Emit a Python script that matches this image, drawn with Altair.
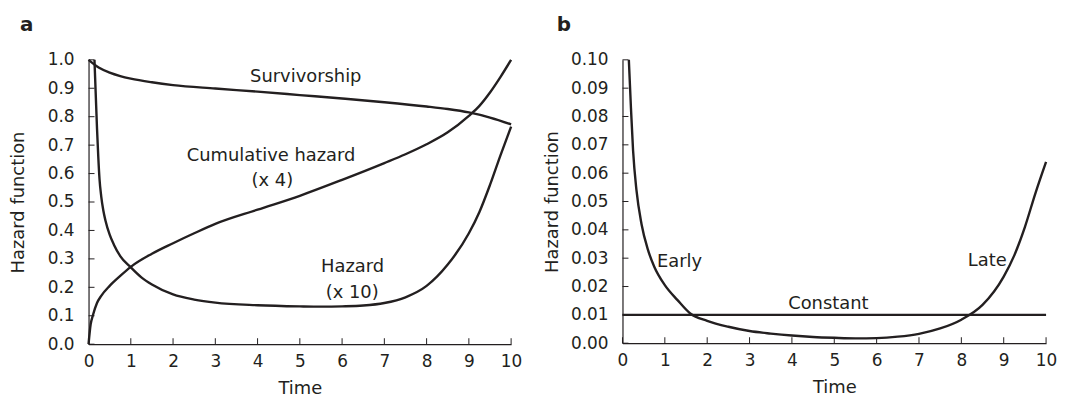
import altair as alt
import pandas as pd

# ---------------- data ----------------
time_ticks = [0, 1, 2, 3, 4, 5, 6, 7, 8, 9, 10]
a_yticks = [0.0, 0.1, 0.2, 0.3, 0.4, 0.5, 0.6, 0.7, 0.8, 0.9, 1.0]
b_yticks = [0.0, 0.01, 0.02, 0.03, 0.04, 0.05, 0.06, 0.07, 0.08, 0.09, 0.10]

surv_t = [0, 0.25, 0.5, 0.75, 1, 1.5, 2, 3, 4, 5, 6, 7, 8, 8.5, 9, 9.5, 10]
surv_v = [1.0, 0.972, 0.955, 0.943, 0.934, 0.921, 0.911, 0.899, 0.888, 0.876,
          0.864, 0.851, 0.836, 0.827, 0.815, 0.797, 0.773]

cum_t = [0, 0.05, 0.1, 0.2, 0.3, 0.5, 0.75, 1, 1.5, 2, 2.5, 3, 4, 5, 6, 7, 7.5,
         8, 8.5, 9, 9.25, 9.5, 9.75, 10]
cum_v = [0.0, 0.07, 0.10, 0.145, 0.17, 0.205, 0.24, 0.272, 0.318, 0.355, 0.39,
         0.423, 0.473, 0.522, 0.578, 0.637, 0.668, 0.703, 0.745, 0.803, 0.838,
         0.885, 0.94, 1.0]

haz_t = [0.14, 0.17, 0.2, 0.23, 0.26, 0.3, 0.35, 0.4, 0.5, 0.6, 0.75, 1, 1.25,
         1.5, 2, 2.5, 3, 4, 5, 5.5, 6, 6.5, 7, 7.5, 8, 8.5, 9, 9.25, 9.5, 9.75, 10]
haz_v = [1.0, 0.88, 0.76, 0.66, 0.58, 0.52, 0.47, 0.435, 0.385, 0.35, 0.31, 0.27,
         0.235, 0.21, 0.175, 0.157, 0.146, 0.137, 0.133, 0.132, 0.133, 0.136,
         0.145, 0.165, 0.205, 0.28, 0.39, 0.465, 0.56, 0.665, 0.765]

hb_t = [0.15, 0.2, 0.25, 0.33, 0.45, 0.6, 0.75, 1, 1.3, 1.6, 2, 2.5, 3, 3.5, 4,
        4.5, 5, 5.5, 6, 6.5, 7, 7.5, 8, 8.5, 9, 9.25, 9.5, 9.75, 10]
hb_v = [0.10, 0.083, 0.068, 0.054, 0.042, 0.033, 0.027, 0.0205, 0.0152, 0.0105,
        0.0079, 0.0058, 0.0043, 0.0034, 0.0027, 0.0022, 0.0019, 0.0017, 0.0018,
        0.0023, 0.0033, 0.0052, 0.0083, 0.0135, 0.0235, 0.031, 0.041, 0.053, 0.064]

const_t = [0, 10]
const_v = [0.01, 0.01]

a_labels = ["Survivorship", "Cumulative hazard", "(x 4)", "Hazard", "(x 10)"]
a_label_t = [5.14, 4.32, 4.35, 6.25, 6.24]
a_label_v = [0.921, 0.645, 0.558, 0.255, 0.164]

b_labels = ["Early", "Late", "Constant"]
b_label_t = [1.345, 8.61, 4.86]
b_label_v = [0.0270, 0.0274, 0.0120]

# ---------------- styling ----------------
INK = "#231f20"
FONT = "DejaVu Sans"
W_A, H_A = 425, 286
W_B, H_B = 426, 285
TICK = 6


def lines_df(series):
    rows = []
    for name, ts, vs in series:
        for t, v in zip(ts, vs):
            rows.append({"series": name, "t": t, "v": v})
    return pd.DataFrame(rows)


def panel(df, yticks, yfmt, labels_df, width, height, letter, dx, ymax,
          ytitle_pad):
    xs = alt.Scale(domain=[0, 10], nice=False, zero=False)
    ys = alt.Scale(domain=[0, ymax], nice=False, zero=False)
    xaxis = alt.Axis(values=time_ticks, format="d", ticks=False, tickSize=0,
                     grid=False, domainColor=INK, domainWidth=1.2,
                     labelFont=FONT, labelFontSize=17, labelColor=INK,
                     labelPadding=9, labelFlush=False, labelOverlap=False,
                     title="Time", titleFont=FONT, titleFontSize=18,
                     titleFontWeight="normal", titleColor=INK, titlePadding=11)
    yaxis = alt.Axis(values=yticks, format=yfmt, ticks=False, tickSize=0,
                     grid=False, domainColor=INK, domainWidth=1.2,
                     labelFont=FONT, labelFontSize=17, labelColor=INK,
                     labelPadding=14.5, labelFlush=False, labelOverlap=False,
                     title="Hazard function", titleFont=FONT, titleFontSize=18,
                     titleFontWeight="normal", titleColor=INK,
                     titlePadding=ytitle_pad)

    X = alt.X("t:Q", scale=xs, axis=xaxis)
    Y = alt.Y("v:Q", scale=ys, axis=yaxis)

    lines = alt.Chart(df).mark_line(color=INK, strokeWidth=2.4,
                                    interpolate="monotone").encode(
        x=X, y=Y, detail="series:N", order="t:Q",
    )
    ytick_df = pd.DataFrame({"v": yticks})
    xtick_df = pd.DataFrame({"t": time_ticks})
    yt = alt.Chart(ytick_df).mark_rule(color=INK, strokeWidth=1).encode(
        y=Y, x=alt.value(0), x2=alt.value(TICK),
    )
    xt = alt.Chart(xtick_df).mark_rule(color=INK, strokeWidth=1).encode(
        x=X, y=alt.value(height), y2=alt.value(height - TICK),
    )
    txt = alt.Chart(labels_df).mark_text(font=FONT, fontSize=18, color=INK,
                                         align="center",
                                         baseline="alphabetic").encode(
        x=X, y=Y, text="label:N",
    )
    return alt.layer(lines, yt, xt, txt).properties(
        width=width, height=height,
        title=alt.TitleParams(letter, anchor="start", frame="group", dx=dx,
                              font=FONT, fontSize=20, fontWeight="bold",
                              color=INK, baseline="alphabetic", offset=0),
    )


df_a = lines_df([("Survivorship", surv_t, surv_v),
                 ("Cumulative", cum_t, cum_v),
                 ("Hazard", haz_t, haz_v)])
df_b = lines_df([("Hazard", hb_t, hb_v),
                 ("Constant", const_t, const_v)])
lab_a = pd.DataFrame({"label": a_labels, "t": a_label_t, "v": a_label_v})
lab_b = pd.DataFrame({"label": b_labels, "t": b_label_t, "v": b_label_v})

pa = panel(df_a, a_yticks, ".1f", lab_a, W_A, H_A, "a", -69, 1.0, 19.5)
pb = panel(df_b, b_yticks, ".2f", lab_b, W_B, H_B, "b", -66, 0.10, 9)

chart = alt.hconcat(pa, pb, spacing=112, bounds="flush").properties(
    padding={"left": 1, "top": 6, "right": 0, "bottom": 0},
    background="white",
).configure_view(stroke=None)

chart.save("out.html", embed_options={"renderer": "svg", "actions": False})
